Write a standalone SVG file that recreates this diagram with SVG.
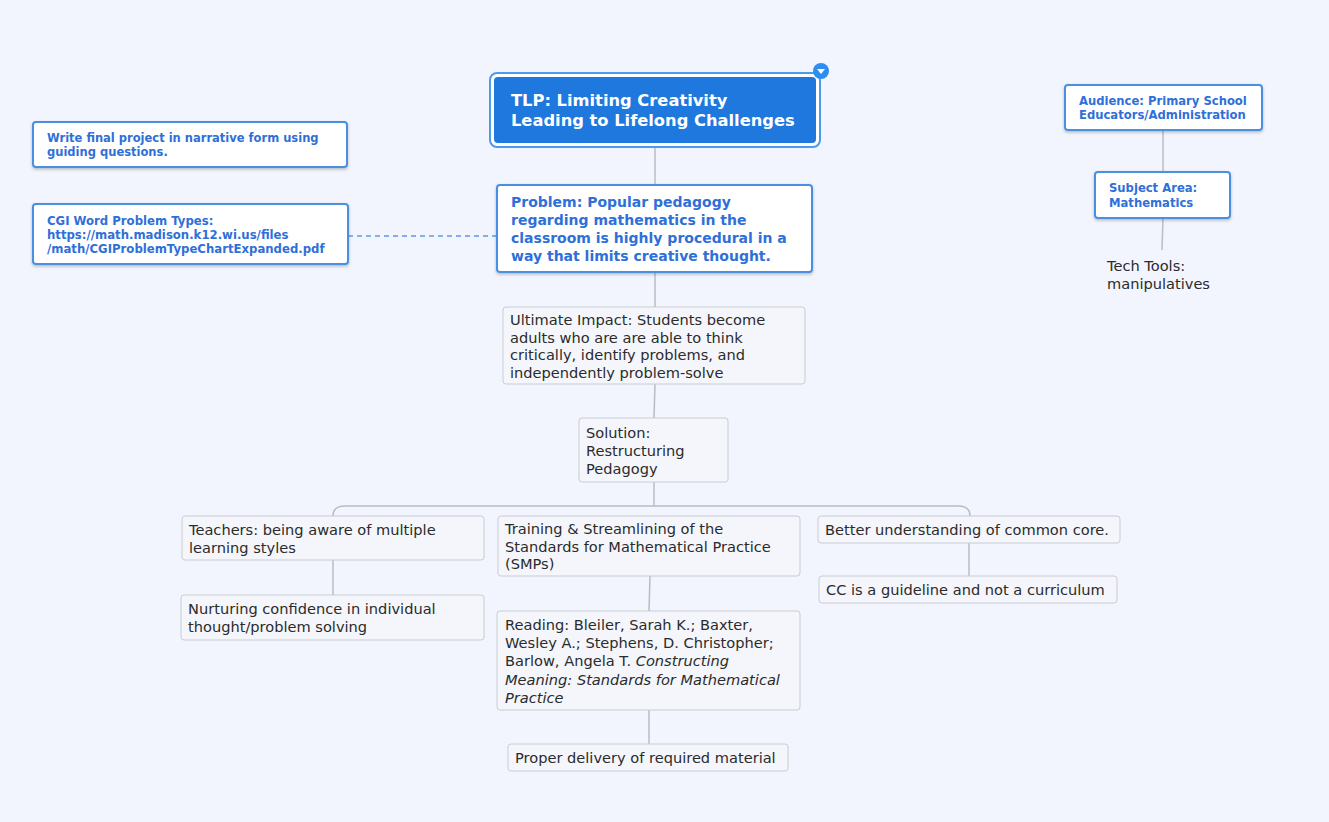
<svg xmlns="http://www.w3.org/2000/svg" width="1329" height="822" viewBox="0 0 1329 822">
<defs>
<filter id="sh" x="-10%" y="-10%" width="120%" height="130%"><feDropShadow dx="0" dy="1.5" stdDeviation="1.5" flood-color="#000" flood-opacity="0.25"/></filter>
<style>
.bg{fill:#f2f5fd}
.bx{fill:#ffffff;stroke:#4a90e2;stroke-width:2}
.gx{fill:#f4f6fc;stroke:#c9ccd3;stroke-width:1}
.bt{font-family:"DejaVu Sans",Verdana,sans-serif;font-weight:bold;fill:#2f6fd8}
.gt{font-family:"DejaVu Sans",Verdana,sans-serif;fill:#2b2b2b;font-size:14.6px}
.ln{stroke:#b8bcc4;stroke-width:1.5;fill:none}
</style>
</defs>
<rect class="bg" width="1329" height="822"/>
<g id="connectors">
<line class="ln" x1="655" y1="147" x2="655" y2="185"/>
<line class="ln" x1="655" y1="272" x2="655" y2="307"/>
<line class="ln" x1="655" y1="384" x2="654" y2="418"/>
<line class="ln" x1="654" y1="482" x2="654" y2="506"/>
<path class="ln" d="M333 516 Q333 506 345 506 L958 506 Q970 506 970 516"/>
<line class="ln" x1="333" y1="560" x2="333" y2="595"/>
<line class="ln" x1="650" y1="576" x2="649" y2="611"/>
<line class="ln" x1="649" y1="710" x2="649" y2="744"/>
<line class="ln" x1="969" y1="543" x2="969" y2="576"/>
<line class="ln" x1="1163" y1="130" x2="1163" y2="172"/>
<line class="ln" x1="1163" y1="218" x2="1162" y2="250"/>
<line x1="348" y1="236" x2="497" y2="236" stroke="#5b9be6" stroke-width="1.5" stroke-dasharray="5,4"/>
</g>
<g id="root">
<rect x="490" y="73" width="330" height="74" rx="7" fill="#ffffff" stroke="#4a9af0" stroke-width="2"/>
<rect x="494" y="77" width="322" height="66" rx="4" fill="#1f78dd"/>
<text font-family="DejaVu Sans,Verdana,sans-serif" font-weight="bold" font-size="16.3" fill="#ffffff"><tspan x="511" y="106">TLP: Limiting Creativity</tspan><tspan x="511" y="126">Leading to Lifelong Challenges</tspan></text>
<circle cx="821" cy="71" r="8" fill="#2c8ef0"/>
<path d="M817 69 L825 69 L821 74 Z" fill="#ffffff"/>
</g>
<g id="problem">
<rect class="bx" x="497" y="185" width="315" height="87" rx="3" filter="url(#sh)"/>
<text class="bt" font-size="14"><tspan x="511" y="207">Problem: Popular pedagogy</tspan><tspan x="511" y="225">regarding mathematics in the</tspan><tspan x="511" y="243">classroom is highly procedural in a</tspan><tspan x="511" y="261">way that limits creative thought.</tspan></text>
</g>
<g id="write">
<rect class="bx" x="33" y="122" width="314" height="45" rx="3" filter="url(#sh)"/>
<text class="bt" font-size="11.5"><tspan x="47" y="142">Write final project in narrative form using</tspan><tspan x="47" y="156">guiding questions.</tspan></text>
</g>
<g id="cgi">
<rect class="bx" x="33" y="204" width="315" height="60" rx="3" filter="url(#sh)"/>
<text class="bt" font-size="11.7"><tspan x="47" y="225">CGI Word Problem Types:</tspan><tspan x="47" y="239">https://math.madison.k12.wi.us/files</tspan><tspan x="47" y="253">/math/CGIProblemTypeChartExpanded.pdf</tspan></text>
</g>
<g id="audience">
<rect class="bx" x="1065" y="85" width="197" height="45" rx="3" filter="url(#sh)"/>
<text class="bt" font-size="11.6"><tspan x="1079" y="105">Audience: Primary School</tspan><tspan x="1079" y="119">Educators/Administration</tspan></text>
</g>
<g id="subject">
<rect class="bx" x="1095" y="172" width="135" height="46" rx="3" filter="url(#sh)"/>
<text class="bt" font-size="11.6"><tspan x="1109" y="192">Subject Area:</tspan><tspan x="1109" y="207">Mathematics</tspan></text>
</g>
<g id="tech">
<text class="gt" font-size="15"><tspan x="1107" y="271">Tech Tools:</tspan><tspan x="1107" y="289">manipulatives</tspan></text>
</g>
<g id="impact">
<rect class="gx" x="503" y="307" width="302" height="77" rx="3"/>
<text class="gt"><tspan x="510" y="325">Ultimate Impact: Students become</tspan><tspan x="510" y="343">adults who are are able to think</tspan><tspan x="510" y="360">critically, identify problems, and</tspan><tspan x="510" y="378">independently problem-solve</tspan></text>
</g>
<g id="solution">
<rect class="gx" x="579" y="418" width="149" height="64" rx="3"/>
<text class="gt"><tspan x="586" y="438">Solution:</tspan><tspan x="586" y="456">Restructuring</tspan><tspan x="586" y="474">Pedagogy</tspan></text>
</g>
<g id="teachers">
<rect class="gx" x="182" y="516" width="302" height="44" rx="3"/>
<text class="gt"><tspan x="189" y="535">Teachers: being aware of multiple</tspan><tspan x="189" y="553">learning styles</tspan></text>
</g>
<g id="nurturing">
<rect class="gx" x="181" y="595" width="303" height="45" rx="3"/>
<text class="gt"><tspan x="188" y="614">Nurturing confidence in individual</tspan><tspan x="188" y="632">thought/problem solving</tspan></text>
</g>
<g id="training">
<rect class="gx" x="498" y="516" width="302" height="60" rx="3"/>
<text class="gt"><tspan x="505" y="534">Training &amp; Streamlining of the</tspan><tspan x="505" y="552">Standards for Mathematical Practice</tspan><tspan x="505" y="569">(SMPs)</tspan></text>
</g>
<g id="reading">
<rect class="gx" x="497" y="611" width="303" height="99" rx="3"/>
<text class="gt"><tspan x="505" y="630">Reading: Bleiler, Sarah K.; Baxter,</tspan><tspan x="505" y="648">Wesley A.; Stephens, D. Christopher;</tspan><tspan x="505" y="666">Barlow, Angela T. <tspan font-style="italic">Constructing</tspan></tspan><tspan x="505" y="685" font-style="italic">Meaning: Standards for Mathematical</tspan><tspan x="505" y="703" font-style="italic">Practice</tspan></text>
</g>
<g id="proper">
<rect class="gx" x="508" y="744" width="280" height="27" rx="3"/>
<text class="gt"><tspan x="515" y="763">Proper delivery of required material</tspan></text>
</g>
<g id="better">
<rect class="gx" x="818" y="516" width="302" height="27" rx="3"/>
<text class="gt"><tspan x="825" y="535">Better understanding of common core.</tspan></text>
</g>
<g id="cc">
<rect class="gx" x="819" y="576" width="298" height="27" rx="3"/>
<text class="gt"><tspan x="826" y="595">CC is a guideline and not a curriculum</tspan></text>
</g>
</svg>
